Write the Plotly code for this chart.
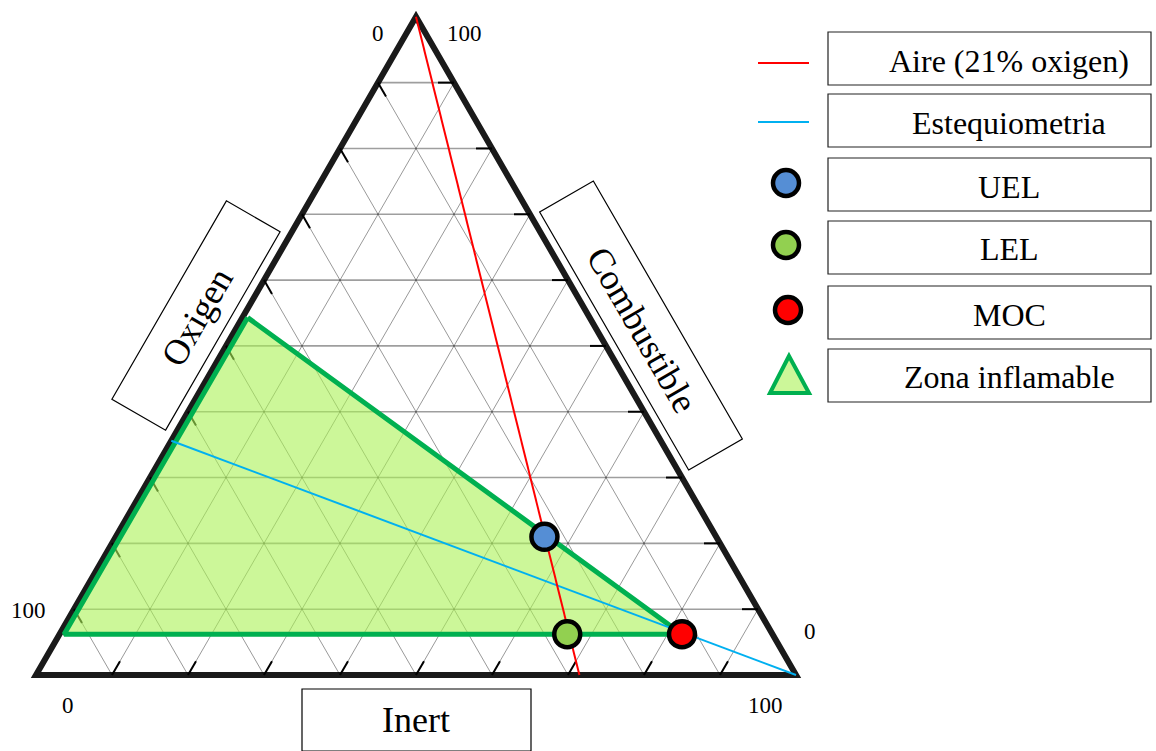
import math
import plotly.graph_objects as go

# ---------------- data (percent values) ----------------
grid_values = [10, 20, 30, 40, 50, 60, 70, 80, 90]
axis_titles = ["Oxigen", "Combustible", "Inert"]
label_min = "0"
label_max = "100"

# Air line (fuel vertex -> air point on the oxygen/inert side)
air_O = [0.0, 28.5]
air_C = [100.0, 0.0]
air_I = [0.0, 71.5]

# Stoichiometric line
stoich_O = [64.4, 0.0]
stoich_C = [35.6, 0.0]
stoich_I = [0.0, 100.0]

# Flammable zone polygon
zone_O = [45.0, 93.2, 11.9]
zone_C = [54.3, 6.2, 6.2]
zone_I = [0.7, 0.6, 81.9]

# Characteristic points
point_names = ["UEL", "LEL", "MOC"]
point_O = [22.6, 27.0, 11.9]
point_C = [21.0, 6.2, 6.2]
point_I = [56.4, 66.8, 81.9]

legend_labels = ["Aire (21% oxigen)", "Estequiometria", "UEL", "LEL", "MOC", "Zona inflamable"]

# ---------------- styling / layout constants ----------------
W, H = 1156, 751
X0_PX, Y0_PX, SIDE_PX = 36, 675, 760   # bottom-left vertex and side length in pixels
SQ3 = math.sqrt(3) / 2
FONT = "Liberation Serif, Times New Roman, serif"
RED = "#ff0000"
BLUE = "#00b0f0"
GREEN_LINE = "#00b050"
GREEN_FILL = "#ccf799"
GREEN_FILL_T = "rgba(170,242,85,0.6)"
UEL_C = "#558ed5"
LEL_C = "#92d050"
MOC_C = "#ff0000"
BORDER = "#1a1a1a"


def tern(I, C):
    """ternary (inert %, combustible %) -> cartesian data coords"""
    return (I + C / 2.0) / 100.0, C / 100.0 * SQ3


def px(xp, yp):
    """pixel position -> data coords (for layout items)"""
    return (xp - X0_PX) / SIDE_PX, (Y0_PX - yp) / SIDE_PX


def tern_list(Is, Cs):
    xs, ys = [], []
    for i, c in zip(Is, Cs):
        x, y = tern(i, c)
        xs.append(x)
        ys.append(y)
    return xs, ys


fig = go.Figure()

# grid lines
hx, hy, dx, dy = [], [], [], []
for k in grid_values:
    a = tern(0, k); b = tern(100 - k, k)          # constant combustible
    hx += [a[0], b[0], None]; hy += [a[1], b[1], None]
    a = tern(k, 0); b = tern(k, 100 - k)          # constant inert
    dx += [a[0], b[0], None]; dy += [a[1], b[1], None]
    a = tern(100 - k, 0); b = tern(0, 100 - k)    # constant oxygen
    dx += [a[0], b[0], None]; dy += [a[1], b[1], None]
fig.add_trace(go.Scatter(x=dx, y=dy, mode="lines", line=dict(color="rgba(0,0,0,0.45)", width=0.9),
                         hoverinfo="skip", showlegend=False))
fig.add_trace(go.Scatter(x=hx, y=hy, mode="lines", line=dict(color="rgba(0,0,0,0.38)", width=1.6),
                         hoverinfo="skip", showlegend=False))

# tick marks
TL = 16.0 / SIDE_PX
tx, ty = [], []
for k in grid_values:
    a = tern(100 - k, k)                       # right edge, combustible
    tx += [a[0], a[0] - TL, None]; ty += [a[1], a[1], None]
    a = tern(k, 0)                             # bottom edge, inert
    tx += [a[0], a[0] + TL * 0.5, None]; ty += [a[1], a[1] + TL * SQ3, None]
    a = tern(0, 100 - k)                       # left edge, oxygen
    tx += [a[0], a[0] + TL * 0.5, None]; ty += [a[1], a[1] - TL * SQ3, None]
fig.add_trace(go.Scatter(x=tx, y=ty, mode="lines", line=dict(color="black", width=2),
                         hoverinfo="skip", showlegend=False))

# flammable zone fill (semi-transparent, over the grid)
zx, zy = tern_list(zone_I + [zone_I[0]], zone_C + [zone_C[0]])
fig.add_trace(go.Scatter(x=zx, y=zy, mode="lines", fill="toself", fillcolor=GREEN_FILL_T,
                         line=dict(width=0), hoverinfo="skip", showlegend=False))
# outline
fig.add_trace(go.Scatter(x=zx, y=zy, mode="lines", line=dict(color=GREEN_LINE, width=5),
                         hoverinfo="skip", showlegend=False))

# stoichiometric and air lines
sx, sy = tern_list(stoich_I, stoich_C)
fig.add_trace(go.Scatter(x=sx, y=sy, mode="lines", line=dict(color=BLUE, width=2),
                         hoverinfo="skip", showlegend=False))
ax_, ay_ = tern_list(air_I, air_C)
fig.add_trace(go.Scatter(x=ax_, y=ay_, mode="lines", line=dict(color=RED, width=2),
                         hoverinfo="skip", showlegend=False))

# points
pcols = [UEL_C, LEL_C, MOC_C]
psx, psy = tern_list(point_I, point_C)
fig.add_trace(go.Scatter(x=psx, y=psy, mode="markers", text=point_names,
                         marker=dict(size=26, color=pcols, line=dict(color="black", width=4.5)),
                         showlegend=False))

shapes = []
# triangle border
v = [tern(0, 0), tern(100, 0), tern(0, 100)]
path = "M {},{} L {},{} L {},{} Z".format(v[0][0], v[0][1], v[1][0], v[1][1], v[2][0], v[2][1])
shapes.append(dict(type="path", path=path, line=dict(color=BORDER, width=6), layer="below"))


def rot_box(cx, cy, L, Wd, ux, uy):
    vx, vy = -uy, ux
    pts = []
    for s1, s2 in [(1, 1), (1, -1), (-1, -1), (-1, 1)]:
        X = cx + s1 * L / 2 * ux + s2 * Wd / 2 * vx
        Y = cy + s1 * L / 2 * uy + s2 * Wd / 2 * vy
        pts.append(px(X, Y))
    return "M " + " L ".join("{},{}".format(p[0], p[1]) for p in pts) + " Z"


# axis title boxes
shapes.append(dict(type="path", path=rot_box(196, 315.5, 229, 62, 0.5, -SQ3),
                   line=dict(color="black", width=1.2), fillcolor="white"))
shapes.append(dict(type="path", path=rot_box(641, 325.5, 298, 62, 0.5, SQ3),
                   line=dict(color="black", width=1.2), fillcolor="white"))
b0 = px(302, 689); b1 = px(531, 751)
shapes.append(dict(type="rect", x0=b0[0], y0=b0[1], x1=b1[0], y1=b1[1],
                   line=dict(color="black", width=1.2), fillcolor="white"))

# legend boxes
box_tops = [32, 94, 158, 221, 286, 349]
for t in box_tops:
    p0 = px(828, t); p1 = px(1151, t + 53)
    shapes.append(dict(type="rect", x0=p0[0], y0=p0[1], x1=p1[0], y1=p1[1],
                       line=dict(color="#222", width=1.2), fillcolor="white"))

# legend line symbols
for yy, col in [(63, RED), (122, BLUE)]:
    p0 = px(758, yy); p1 = px(809, yy)
    shapes.append(dict(type="line", x0=p0[0], y0=p0[1], x1=p1[0], y1=p1[1],
                       line=dict(color=col, width=2)))
# legend triangle
ta = px(789, 356); tb = px(770, 393); tc = px(809, 393)
shapes.append(dict(type="path",
                   path="M {},{} L {},{} L {},{} Z".format(ta[0], ta[1], tb[0], tb[1], tc[0], tc[1]),
                   line=dict(color=GREEN_LINE, width=4), fillcolor=GREEN_FILL))

# legend markers
lm = [px(786, 183), px(786, 245), px(788, 310)]
fig.add_trace(go.Scatter(x=[p[0] for p in lm], y=[p[1] for p in lm], mode="markers",
                         marker=dict(size=26, color=pcols, line=dict(color="black", width=4.5)),
                         hoverinfo="skip", showlegend=False))

annotations = []


def ann(text, xp, yp, size, angle=0):
    x, y = px(xp, yp)
    annotations.append(dict(x=x, y=y, text=text, showarrow=False, textangle=angle,
                            xanchor="center", yanchor="middle",
                            font=dict(family=FONT, size=size, color="black")))


# corner labels
ann(label_min, 378, 33, 23)
ann(label_max, 464, 33, 23)
ann(label_max, 28, 610, 23)
ann(label_min, 68, 705, 23)
ann(label_min, 810, 631, 23)
ann(label_max, 765, 705, 23)

# axis titles
ann(axis_titles[0], 197, 317, 36, -60)
ann(axis_titles[1], 642, 330, 36, 60)
ann(axis_titles[2], 416, 720, 36)

# legend labels
label_centers = [61, 123, 187, 249, 315, 377]
for lab, yc in zip(legend_labels, label_centers):
    ann(lab, 1009, yc, 32)

xr0, _ = px(0, 0)
xr1, _ = px(W, 0)
_, yr0 = px(0, H)
_, yr1 = px(0, 0)

fig.update_layout(
    width=W, height=H,
    margin=dict(l=0, r=0, t=0, b=0),
    paper_bgcolor="white", plot_bgcolor="white",
    xaxis=dict(range=[xr0, xr1], visible=False, fixedrange=True),
    yaxis=dict(range=[yr0, yr1], visible=False, fixedrange=True),
    shapes=shapes, annotations=annotations, showlegend=False,
)

fig.write_html("out.html", config={"displayModeBar": False},
               post_script="document.body.style.margin='0px';document.body.style.overflow='hidden';")
